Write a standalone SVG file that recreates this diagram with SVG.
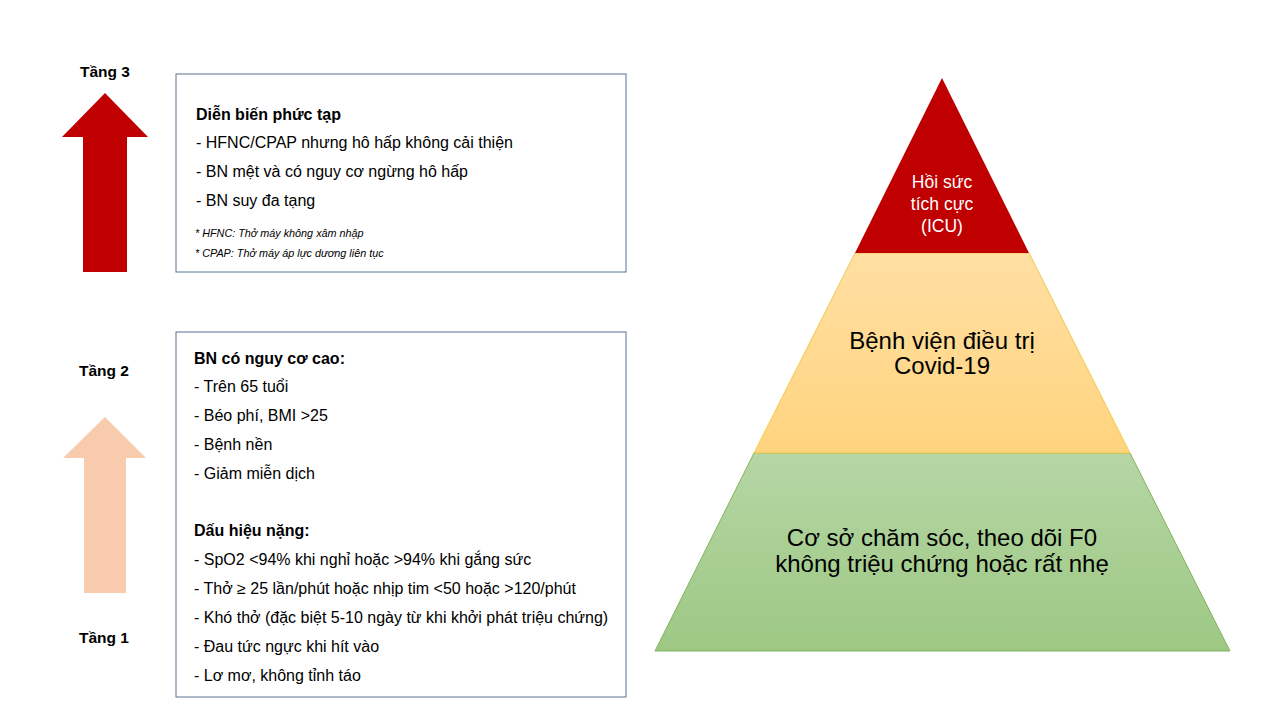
<svg xmlns="http://www.w3.org/2000/svg" width="1280" height="720" viewBox="0 0 1280 720">
<defs>
<linearGradient id="gMid" x1="0" y1="0" x2="0" y2="1"><stop offset="0" stop-color="#FFDFA3"/><stop offset="1" stop-color="#FFD47E"/></linearGradient>
<linearGradient id="gBot" x1="0" y1="0" x2="0" y2="1"><stop offset="0" stop-color="#B6D6A5"/><stop offset="1" stop-color="#9DC883"/></linearGradient>
<style>
text{font-family:"Liberation Sans",Arial,sans-serif;fill:#000}
.lbl{font-size:15.5px;font-weight:bold;text-anchor:middle}
.h{font-size:16px;font-weight:bold}
.t{font-size:16px}
.n{font-size:10.8px;font-style:italic}
.box{fill:#fff;stroke:#5A7291;stroke-width:1}
.pc{text-anchor:middle}
</style>
</defs>
<rect width="1280" height="720" fill="#fff"/>

<g id="arrow-tang3">
<polygon points="105,93 148,137 127,137 127,272 83,272 83,137 62,137" fill="#C00000"/>
<text class="lbl" x="105" y="77">Tầng 3</text>
</g>
<g id="arrow-tang2-1">
<polygon points="105,417 146,458 126,458 126,593 84,593 84,458 63,458" fill="#F8CBAD"/>
<text class="lbl" x="104" y="376">Tầng 2</text>
<text class="lbl" x="104" y="643">Tầng 1</text>
</g>

<g id="box-tang3">
<rect class="box" x="176" y="74" width="450" height="198"/>
<text class="h" x="196" y="120">Diễn biến phức tạp</text>
<text class="t" x="196" y="148">- HFNC/CPAP nhưng hô hấp không cải thiện</text>
<text class="t" x="196" y="177">- BN mệt và có nguy cơ ngừng hô hấp</text>
<text class="t" x="196" y="206">- BN suy đa tạng</text>
<text class="n" x="195" y="237">* HFNC: Thở máy không xâm nhập</text>
<text class="n" x="195" y="257">* CPAP: Thở máy áp lực dương liên tục</text>
</g>

<g id="box-tang2">
<rect class="box" x="176" y="332" width="450" height="365"/>
<text class="h" x="194" y="364">BN có nguy cơ cao:</text>
<text class="t" x="194" y="392">- Trên 65 tuổi</text>
<text class="t" x="194" y="421">- Béo phí, BMI &gt;25</text>
<text class="t" x="194" y="450">- Bệnh nền</text>
<text class="t" x="194" y="479">- Giảm miễn dịch</text>
<text class="h" x="194" y="536">Dấu hiệu nặng:</text>
<text class="t" x="194" y="565">- SpO2 &lt;94% khi nghỉ hoặc &gt;94% khi gắng sức</text>
<text class="t" x="194" y="594">- Thở ≥ 25 lần/phút  hoặc nhịp tim &lt;50 hoặc &gt;120/phút</text>
<text class="t" x="194" y="623">- Khó thở (đặc biệt 5-10 ngày từ khi khởi phát triệu chứng)</text>
<text class="t" x="194" y="652">- Đau tức ngực khi hít vào</text>
<text class="t" x="194" y="681">- Lơ mơ, không tỉnh táo</text>
</g>

<g id="pyramid-bottom">
<polygon points="754,453 1130,453 1230,651 655,651" fill="url(#gBot)" stroke="#7FB35E" stroke-width="1"/>
<text class="pc" x="942" y="546" font-size="24">Cơ sở chăm sóc, theo dõi F0</text>
<text class="pc" x="942" y="572" font-size="24">không triệu chứng hoặc rất nhẹ</text>
</g>
<g id="pyramid-middle">
<polygon points="855,253 1029,253 1130,453 754,453" fill="url(#gMid)" stroke="#F2C94C" stroke-width="1"/>
<text class="pc" x="942" y="349" font-size="24">Bệnh viện điều trị</text>
<text class="pc" x="942" y="374" font-size="24">Covid-19</text>
</g>
<g id="pyramid-top">
<polygon points="942,78 1029,253 855,253" fill="#C00000"/>
<text class="pc" x="942" y="188" font-size="17.5" style="fill:#fff">Hồi sức</text>
<text class="pc" x="942" y="210" font-size="17.5" style="fill:#fff">tích cực</text>
<text class="pc" x="942" y="232" font-size="17.5" style="fill:#fff">(ICU)</text>
</g>
<g id="connectors"></g>
</svg>
